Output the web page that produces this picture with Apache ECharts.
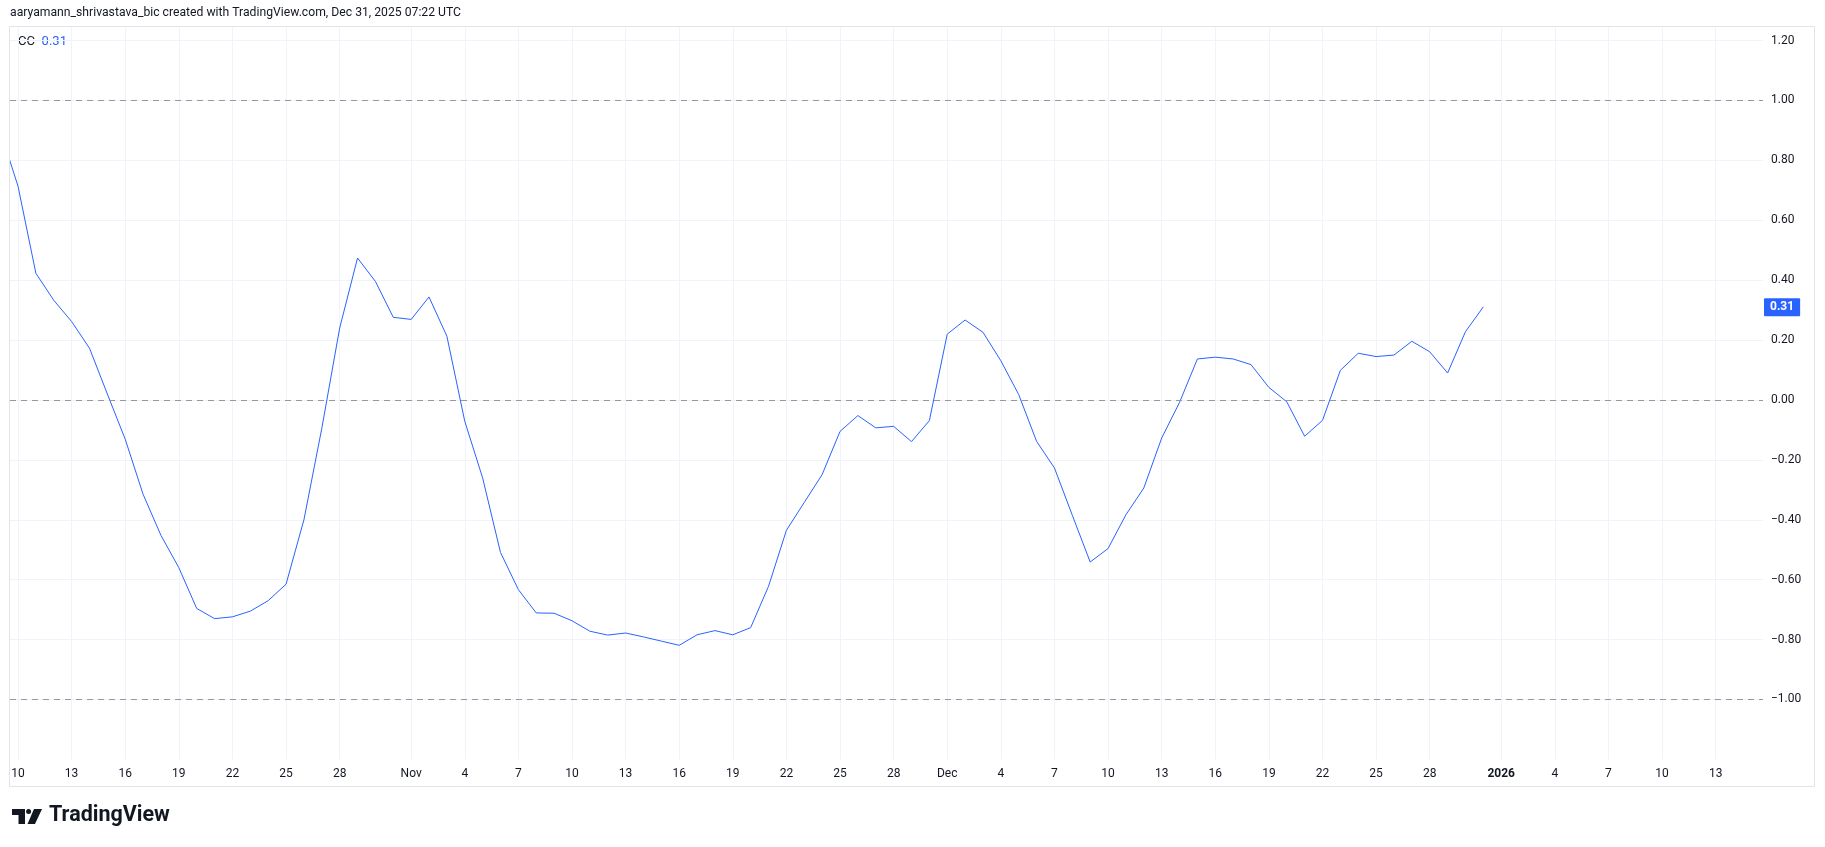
<!DOCTYPE html>
<html><head><meta charset="utf-8">
<script src="https://cdn.jsdelivr.net/npm/echarts@6/dist/echarts.min.js"></script>
<style>html,body{margin:0;padding:0;background:#fff}#c{width:1825px;height:847px}</style>
</head><body><div id="c"></div>
<script>
// ---- data ----
const seriesName = 'CC';
const startDate = '2025-10-09';          // first daily point
const values = [
  0.900, 0.714, 0.423, 0.333, 0.262, 0.173, 0.020, -0.131, -0.315, -0.452,
 -0.560, -0.696, -0.730, -0.724, -0.705, -0.670, -0.615, -0.400, -0.095, 0.240,
  0.474, 0.396, 0.276,                                   // Oct 29-31
  0.269, 0.344, 0.213, -0.071, -0.260, -0.509, -0.633, -0.711, -0.712, -0.737,
 -0.772, -0.785, -0.778, -0.791, -0.805, -0.819, -0.784, -0.770, -0.784, -0.760,
 -0.622, -0.435, -0.342, -0.249, -0.105, -0.052, -0.093, -0.088, -0.139, -0.069, // Nov
  0.220, 0.267, 0.226, 0.131, 0.018, -0.138, -0.227, -0.385, -0.541, -0.496,
 -0.383, -0.294, -0.127, -0.008, 0.137, 0.143, 0.137, 0.118, 0.042, -0.006,
 -0.121, -0.068, 0.099, 0.156, 0.145, 0.150, 0.196, 0.161, 0.090, 0.228, 0.311 // Dec
];
// time-axis ticks: day offsets from startDate and their labels
const tickDays   = [1,4,7,10,13,16,19,23,26,29,32,35,38,41,44,47,50,53,56,59,62,65,68,71,74,77,80,84,87,90,93,96];
const tickLabels = ['10','13','16','19','22','25','28','Nov','4','7','10','13','16','19','22','25','28','Dec','4','7','10','13','16','19','22','25','28','2026','4','7','10','13'];
const hLevels = [1, 0, -1];
const headerText = 'aaryamann_shrivastava_bic created with TradingView.com, Dec 31, 2025 07:22 UTC';

// ---- chart ----
const FONT = 'Roboto, "Liberation Sans", sans-serif';
const BLUE = '#2962FF';
const TEXT = '#131722';
const seriesData = values.map((v, i) => [i, v]);
const lastVal = values[values.length - 1];
const fmt = v => (v < 0 ? '\u2212' : '') + Math.abs(v).toFixed(2);

const chart = echarts.init(document.getElementById('c'), null, {renderer: 'canvas'});
chart.setOption({
  animation: false,
  backgroundColor: '#ffffff',
  grid: {left: 10, right: 62, top: 27.1, bottom: 87.6, containLabel: false},
  xAxis: {
    type: 'value', min: 0.552, max: 98.65,
    axisLine: {show: false},
    axisTick: {show: false, customValues: tickDays},
    axisLabel: {
      customValues: tickDays, margin: 9, color: TEXT, fontSize: 12, fontFamily: FONT,
      formatter: v => {
        const k = tickDays.indexOf(Math.round(v));
        if (k < 0) return '';
        const t = tickLabels[k];
        return /^\d{4}$/.test(t) ? '{b|' + t + '}' : t;
      },
      rich: {b: {fontWeight: 'bold', fontSize: 12, color: TEXT, fontFamily: FONT}}
    },
    splitLine: {show: true, lineStyle: {color: '#f0f3fa', width: 1}}
  },
  yAxis: {
    type: 'value', position: 'right', min: -1.2, max: 1.245, interval: 0.2,
    axisLine: {show: false}, axisTick: {show: false},
    axisLabel: {
      margin: 8, color: TEXT, fontSize: 12, fontFamily: FONT, align: 'left',
      formatter: v => {
        const q = v / 0.2;
        if (Math.abs(q - Math.round(q)) > 0.01 || v < -1.05) return '';
        return fmt(v);
      }
    },
    splitLine: {show: true, showMinLine: false, showMaxLine: false, lineStyle: {color: '#f0f3fa', width: 1}}
  },
  series: [{
    name: seriesName, type: 'line', data: seriesData, showSymbol: false, silent: true,
    lineStyle: {color: BLUE, width: 1}, clip: true,
    markLine: {
      silent: true, symbol: ['none', 'none'], animation: false,
      data: hLevels.map(l => ({
        yAxis: l, lineStyle: {color: '#9598a1', type: [6, 5], width: 1}, label: {show: false}
      })).concat([{
        yAxis: lastVal, lineStyle: {color: 'rgba(0,0,0,0)', width: 0},
        label: {
          show: true, position: 'end', distance: 1, formatter: fmt(lastVal),
          color: '#ffffff', backgroundColor: BLUE, padding: [3, 6, 3, 6], borderRadius: 1,
          fontSize: 12, fontWeight: 'bold', fontFamily: FONT, opacity: 1
        }
      }])
    }
  }],
  graphic: [
    {type: 'text', left: 10, top: 7, style: {text: headerText, fill: TEXT, font: '12.2px ' + FONT}},
    {type: 'rect', shape: {x: 9.5, y: 26.5, width: 1805, height: 760}, style: {fill: 'none', stroke: '#e0e3eb', lineWidth: 1}, silent: true, z: 10},
    {type: 'text', left: 18, top: 35, style: {
      rich: {n: {fill: TEXT, font: '13px ' + FONT}, v: {fill: BLUE, font: '13px ' + FONT}},
      text: '{n|' + seriesName + '}  {v|' + fmt(lastVal) + '}'
    }},
    {type: 'polygon', shape: {points: [[12, 809], [25, 809], [25, 824], [18.5, 824], [18.5, 815], [12, 815]]}, style: {fill: TEXT}},
    {type: 'circle', shape: {cx: 28.6, cy: 811.6, r: 2.5}, style: {fill: TEXT}},
    {type: 'polygon', shape: {points: [[34, 809], [42, 809], [35, 824], [27.5, 824]]}, style: {fill: TEXT}},
    {type: 'text', left: 49, top: 805, style: {text: 'TradingView', fill: TEXT, font: 'bold 21.5px ' + FONT}}
  ]
});
</script></body></html>
